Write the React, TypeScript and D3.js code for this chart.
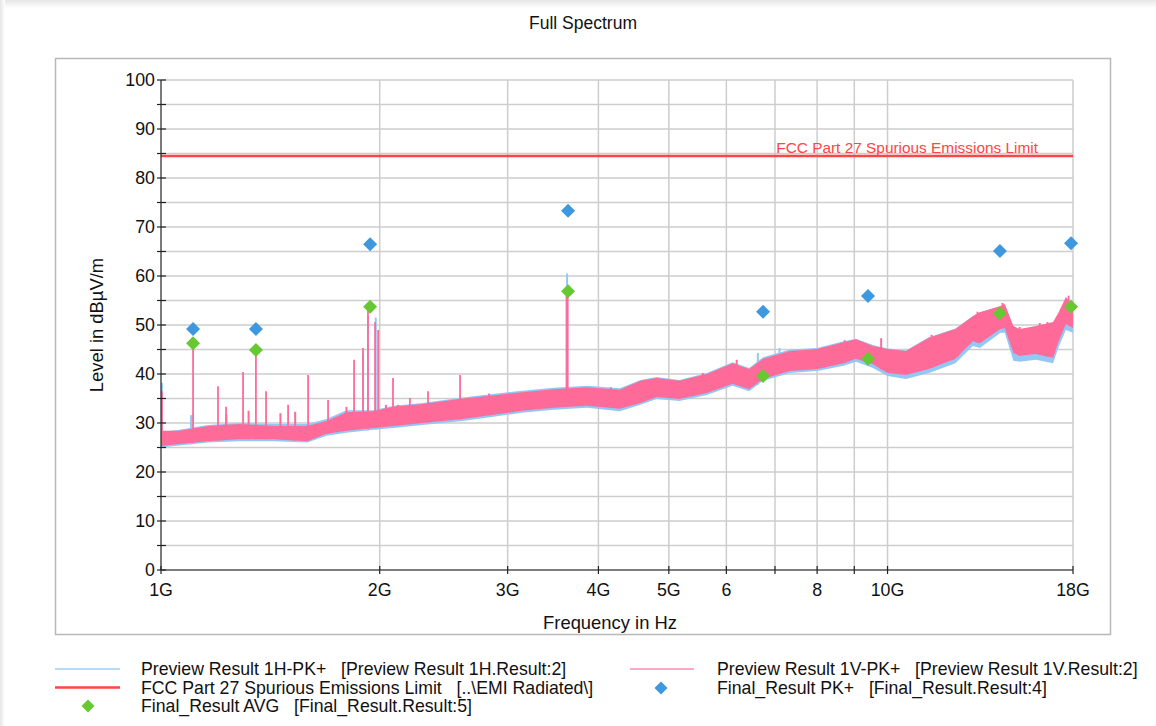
import React from "react";
import * as d3 from "d3";

// ---------- data ----------
const FREQ_GHZ = [1.0, 1.06, 1.16, 1.28, 1.43, 1.59, 1.69, 1.8, 1.96, 2.09, 2.29, 2.6, 2.9, 3.14, 3.47, 3.86, 4.28, 4.57, 4.81, 5.17, 5.64, 6.12, 6.45, 6.74, 7.34, 8.0, 8.7, 9.05, 9.55, 10.0, 10.6, 11.4, 12.4, 13.1, 13.4, 14.3, 14.5, 14.9, 15.2, 16.0, 16.9, 17.2, 17.6, 18.0];
const PINK_HI = [28.4, 28.4, 29.4, 29.8, 29.4, 29.4, 30.4, 32.2, 32.4, 33.3, 33.9, 35.0, 35.7, 36.3, 36.9, 37.3, 36.8, 38.6, 39.2, 38.6, 40.0, 42.2, 41.0, 43.1, 44.7, 45.1, 46.5, 47.1, 45.7, 45.1, 44.7, 47.4, 49.2, 51.8, 52.6, 53.9, 54.3, 49.8, 49.2, 49.8, 50.6, 52.6, 55.7, 53.9];
const PINK_LO = [25.3, 25.7, 26.3, 26.7, 26.7, 26.3, 27.8, 28.4, 29.0, 29.4, 30.0, 30.8, 31.8, 32.5, 33.1, 33.5, 32.9, 34.1, 35.3, 34.9, 36.1, 38.0, 36.9, 39.0, 40.6, 41.0, 42.2, 43.1, 42.0, 40.2, 39.8, 41.0, 43.1, 46.7, 46.3, 49.2, 49.4, 44.3, 43.7, 44.1, 43.3, 46.7, 50.2, 49.4];
const BLUE_HI = [28.2, 28.6, 29.6, 30.0, 29.8, 29.8, 30.8, 32.6, 32.6, 33.5, 34.1, 35.2, 36.0, 36.6, 37.2, 37.6, 37.1, 38.8, 39.4, 38.8, 40.2, 42.4, 41.2, 43.4, 45.0, 45.3, 46.7, 47.2, 45.9, 45.2, 44.8, 47.5, 49.3, 51.8, 52.6, 53.7, 54.1, 49.6, 49.0, 49.6, 50.4, 52.4, 55.2, 53.7];
const BLUE_LO = [25.0, 25.4, 26.0, 26.3, 26.3, 26.0, 27.4, 28.0, 28.6, 29.0, 29.6, 30.4, 31.4, 32.1, 32.7, 33.1, 32.4, 33.7, 34.9, 34.5, 35.7, 37.6, 36.5, 38.6, 40.2, 40.6, 41.7, 42.5, 41.2, 39.6, 39.0, 40.2, 42.2, 45.7, 45.3, 48.4, 48.4, 42.7, 42.5, 42.9, 42.2, 45.5, 49.0, 48.4];

// strong emissions (pink 1V trace)
const PINK_SPIKE_FREQ = [1.003, 1.107, 1.198, 1.229, 1.297, 1.351, 1.395, 1.496, 1.594, 1.698, 1.844, 1.897, 1.927, 1.971, 1.99, 2.086, 2.201, 2.331, 2.58, 2.828, 3.622, 17.75];
const PINK_SPIKE_PEAK = [36.5, 46.5, 37.5, 33.3, 40.4, 45.2, 36.5, 33.7, 39.8, 34.7, 42.9, 45.3, 53.0, 50.6, 49.0, 39.2, 35.1, 36.5, 39.8, 36.0, 57.5, 56.0];
// small noise peaks sticking out of the pink band
const PINK_NOISE_FREQ = [1.23, 1.32, 1.46, 1.53, 1.8, 2.04, 2.12, 4.16, 4.73, 5.57, 6.2, 7.75, 8.18, 8.73, 9.05, 9.8, 11.5, 12.3, 12.5, 13.0, 13.3, 14.4, 15.2, 16.2, 16.6];
const PINK_NOISE_PEAK = [31.7, 32.5, 32.0, 32.3, 33.3, 33.7, 33.7, 37.3, 38.8, 40.2, 42.9, 44.9, 45.5, 46.9, 46.5, 47.3, 48.0, 48.6, 49.0, 50.4, 52.7, 54.5, 49.6, 50.4, 50.6];
const BLUE_SPIKE_FREQ = [1.003, 1.1, 1.107, 1.897, 1.927, 1.975, 2.45, 3.622, 5.79, 6.63, 7.1];
const BLUE_SPIKE_PEAK = [38.2, 31.6, 31.8, 44.0, 52.0, 51.5, 33.5, 60.5, 40.4, 44.3, 45.3];

const FINAL_FREQ_GHZ = [1.107, 1.351, 1.94, 3.633, 6.74, 9.4, 14.28, 17.89];
const FINAL_PK = [49.2, 49.2, 66.5, 73.3, 52.7, 55.9, 65.1, 66.7];
const FINAL_AVG = [46.3, 44.9, 53.7, 56.9, 39.6, 43.1, 52.4, 53.7];

const LIMIT_LEVEL = 84.5;
const LIMIT_NAME = "FCC Part 27 Spurious Emissions Limit";

const X_TICKS = [1, 2, 3, 4, 5, 6, 7, 8, 9, 10, 18];
const X_TICK_LABELS = ["1G", "2G", "3G", "4G", "5G", "6", "", "8", "", "10G", "18G"];
const Y_MAJOR = [0, 10, 20, 30, 40, 50, 60, 70, 80, 90, 100];
const Y_MINOR = [5, 15, 25, 35, 45, 55, 65, 75, 85, 95];

const LEGEND_LEFT = [
  "Preview Result 1H-PK+   [Preview Result 1H.Result:2]",
  "FCC Part 27 Spurious Emissions Limit   [..\\EMI Radiated\\]",
  "Final_Result AVG   [Final_Result.Result:5]",
];
const LEGEND_RIGHT = [
  "Preview Result 1V-PK+   [Preview Result 1V.Result:2]",
  "Final_Result PK+   [Final_Result.Result:4]",
];

// ---------- styles ----------
const FONT = "'Liberation Sans', Arial, sans-serif";
const C_PINK = "#ff6b99";
const C_BLUE = "#93c7f5";
const C_RED = "#ff4545";
const C_GREEN = "#66c932";
const C_DBLUE = "#3d98e0";
const C_GRID = "#cdcdcd";

export default function App() {
  const W = 1156, H = 726;
  const x = d3.scaleLog().domain([1, 18]).range([161, 1073]);
  const y = d3.scaleLinear().domain([0, 100]).range([570, 80]);

  const idx = FREQ_GHZ.map((_, i) => i);
  const area = (hi: number[], lo: number[]) =>
    d3.area<number>()
      .x((i) => x(FREQ_GHZ[i]))
      .y0((i) => y(lo[i]))
      .y1((i) => y(hi[i]))(idx) as string;

  const baseOf = d3.scaleLog().domain(FREQ_GHZ).range(PINK_LO);
  const baseOfBlue = d3.scaleLog().domain(FREQ_GHZ).range(BLUE_LO);

  const diamond = (cx: number, cy: number, r: number) =>
    `M${cx},${cy - r}L${cx + r},${cy}L${cx},${cy + r}L${cx - r},${cy}Z`;

  return (
    <svg width={W} height={H} style={{ position: "absolute", left: 0, top: 0 }} fontFamily={FONT}>
      <defs>
        <linearGradient id="shTop" x1="0" y1="0" x2="0" y2="1">
          <stop offset="0" stopColor="#e6e6e6" />
          <stop offset="1" stopColor="#ffffff" />
        </linearGradient>
        <linearGradient id="shLeft" x1="0" y1="0" x2="1" y2="0">
          <stop offset="0" stopColor="#e6e6e6" />
          <stop offset="1" stopColor="#ffffff" />
        </linearGradient>
      </defs>
      <rect x={0} y={0} width={W} height={H} fill="#ffffff" />
      <rect x={0} y={0} width={W} height={8} fill="url(#shTop)" />
      <rect x={0} y={0} width={5} height={H} fill="url(#shLeft)" />

      {/* title */}
      <text x={583} y={28.5} textAnchor="middle" fontSize={17.5} fill="#111">Full Spectrum</text>

      {/* frame */}
      <rect x={55.5} y={58.5} width={1055} height={576} fill="none" stroke="#b8b8b8" strokeWidth={1.5} />

      {/* grid */}
      {[...Y_MAJOR, ...Y_MINOR].map((v) => (
        <line key={"gy" + v} x1={161} x2={1073} y1={y(v)} y2={y(v)} stroke={C_GRID} strokeWidth={1.5} />
      ))}
      {X_TICKS.slice(1).map((v) => (
        <line key={"gx" + v} x1={x(v)} x2={x(v)} y1={80} y2={570} stroke={C_GRID} strokeWidth={1.5} />
      ))}

      {/* blue trace */}
      <path d={area(BLUE_HI, BLUE_LO)} fill={C_BLUE} />
      {BLUE_SPIKE_FREQ.map((f, i) => (
        <line key={"bs" + i} x1={x(f)} x2={x(f)} y1={y(baseOfBlue(f))} y2={y(BLUE_SPIKE_PEAK[i])} stroke={C_BLUE} strokeWidth={2} />
      ))}
      {/* pink trace */}
      <path d={area(PINK_HI, PINK_LO)} fill={C_PINK} />
      {PINK_NOISE_FREQ.map((f, i) => (
        <line key={"pn" + i} x1={x(f)} x2={x(f)} y1={y(baseOf(f))} y2={y(PINK_NOISE_PEAK[i])} stroke={C_PINK} strokeWidth={2} />
      ))}
      {PINK_SPIKE_FREQ.map((f, i) => (
        <line key={"ps" + i} x1={x(f)} x2={x(f)} y1={y(baseOf(f))} y2={y(PINK_SPIKE_PEAK[i])} stroke={C_PINK} strokeWidth={f > 3 && f < 4 ? 3 : 1.8} />
      ))}

      {/* limit */}
      <line x1={161} x2={1073} y1={y(LIMIT_LEVEL)} y2={y(LIMIT_LEVEL)} stroke={C_RED} strokeWidth={2.5} />
      <text x={1038} y={y(LIMIT_LEVEL) - 3} textAnchor="end" fontSize={15.4} fill={C_RED}>{LIMIT_NAME}</text>

      {/* final results */}
      {FINAL_FREQ_GHZ.map((f, i) => (
        <path key={"pk" + i} d={diamond(x(f), y(FINAL_PK[i]), 7)} fill={C_DBLUE} />
      ))}
      {FINAL_FREQ_GHZ.map((f, i) => (
        <path key={"av" + i} d={diamond(x(f), y(FINAL_AVG[i]), 7)} fill={C_GREEN} />
      ))}

      {/* y axis */}
      <line x1={161} x2={161} y1={80} y2={570} stroke="#222" strokeWidth={1.2} />
      {[...Y_MAJOR, ...Y_MINOR].map((v) => (
        <line key={"ty" + v} x1={157} x2={166} y1={y(v)} y2={y(v)} stroke="#222" strokeWidth={1.2} />
      ))}
      {Y_MAJOR.map((v) => (
        <text key={"ly" + v} x={155} y={y(v)} dy="0.36em" textAnchor="end" fontSize={17.8} fill="#111">{v}</text>
      ))}
      <text transform="translate(103,325) rotate(-90)" textAnchor="middle" fontSize={18.4} fill="#111">Level in dBµV/m</text>

      {/* x axis */}
      <line x1={161} x2={1073} y1={570} y2={570} stroke="#222" strokeWidth={1.2} />
      {X_TICKS.map((v) => (
        <line key={"tx" + v} x1={x(v)} x2={x(v)} y1={566} y2={574} stroke="#222" strokeWidth={1.2} />
      ))}
      {X_TICKS.map((v, i) => (
        <text key={"lx" + v} x={x(v)} y={596} textAnchor="middle" fontSize={17.8} fill="#111">{X_TICK_LABELS[i]}</text>
      ))}
      <text x={610} y={628.5} textAnchor="middle" fontSize={18.4} fill="#111">Frequency in Hz</text>

      {/* legend */}
      <line x1={55} x2={120} y1={669} y2={669} stroke="#b5dafc" strokeWidth={2} />
      <line x1={55} x2={120} y1={687.5} y2={687.5} stroke={C_RED} strokeWidth={2.5} />
      <path d={diamond(88, 706, 6.5)} fill={C_GREEN} />
      {LEGEND_LEFT.map((t, i) => (
        <text key={"ll" + i} x={141} y={669 + i * 18.3} dy="0.36em" fontSize={17.7} fill="#111" style={{ whiteSpace: "pre" }}>{t}</text>
      ))}
      <line x1={630} x2={694} y1={669} y2={669} stroke="#ffa8c4" strokeWidth={2} />
      <path d={diamond(661, 688, 6.5)} fill={C_DBLUE} />
      {LEGEND_RIGHT.map((t, i) => (
        <text key={"lr" + i} x={717} y={669 + i * 18.3} dy="0.36em" fontSize={17.7} fill="#111" style={{ whiteSpace: "pre" }}>{t}</text>
      ))}
    </svg>
  );
}
